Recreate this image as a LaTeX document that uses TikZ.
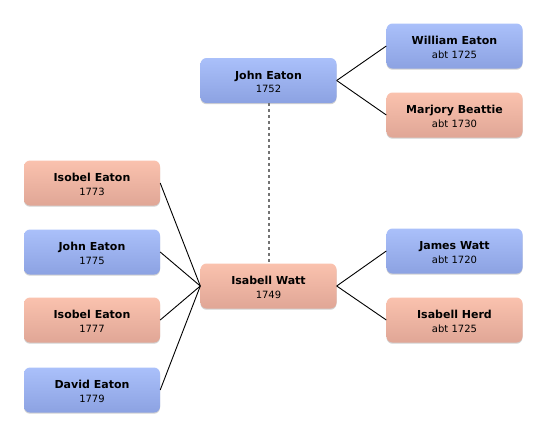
\documentclass[tikz,border=0pt]{standalone}
\usepackage{fontspec}
\setmainfont{DejaVu Sans}
\usetikzlibrary{shadows}
\definecolor{bluetop}{RGB}{170,192,250}
\definecolor{bluebot}{RGB}{140,162,226}
\definecolor{pinktop}{RGB}{250,194,174}
\definecolor{pinkbot}{RGB}{224,166,150}
\definecolor{dotgray}{RGB}{115,115,115}
\tikzset{
  person/.style={rectangle, rounded corners=6pt, minimum width=136pt, minimum height=45pt,
    align=center, inner sep=0pt, font=\fontsize{10pt}{13.5pt}\selectfont,
    drop shadow={shadow xshift=0pt, shadow yshift=-1.2pt, opacity=0.18, fill=black}},
  male/.style={person, top color=bluetop, bottom color=bluebot},
  female/.style={person, top color=pinktop, bottom color=pinkbot},
  link/.style={draw=black, line width=0.9pt},
  marriage/.style={draw=dotgray, line width=2pt, dash pattern=on 3pt off 3pt},
}
\newcommand{\pname}[2]{\begin{tabular}{@{}c@{}}\rule{0pt}{15pt}{\bfseries\fontsize{11pt}{13.5pt}\selectfont #1}\\ #2\end{tabular}}
\begin{document}
\begin{tikzpicture}[x=1pt,y=-1pt]
\useasboundingbox (0,0) rectangle (546,437);
\node[male] (john) at (268.5,80.5) {\pname{John Eaton}{1752}};
\node[male] (william) at (454.5,46) {\pname{William Eaton}{abt 1725}};
\node[female] (marjory) at (454.5,115) {\pname{Marjory Beattie}{abt 1730}};
\node[female] (isabell) at (268.5,286) {\pname{Isabell Watt}{1749}};
\node[male] (james) at (454.5,251) {\pname{James Watt}{abt 1720}};
\node[female] (herd) at (454.5,320) {\pname{Isabell Herd}{abt 1725}};
\node[female] (c1) at (92,183) {\pname{Isobel Eaton}{1773}};
\node[male] (c2) at (92,252) {\pname{John Eaton}{1775}};
\node[female] (c3) at (92,320) {\pname{Isobel Eaton}{1777}};
\node[male] (c4) at (92,390) {\pname{David Eaton}{1779}};
\draw[link] (john.east) -- (william.west);
\draw[link] (john.east) -- (marjory.west);
\draw[link] (isabell.east) -- (james.west);
\draw[link] (isabell.east) -- (herd.west);
\foreach \c in {c1,c2,c3,c4} \draw[link] (isabell.west) -- (\c.east);
\draw[marriage] (john.south) -- (isabell.north);
\end{tikzpicture}
\end{document}
